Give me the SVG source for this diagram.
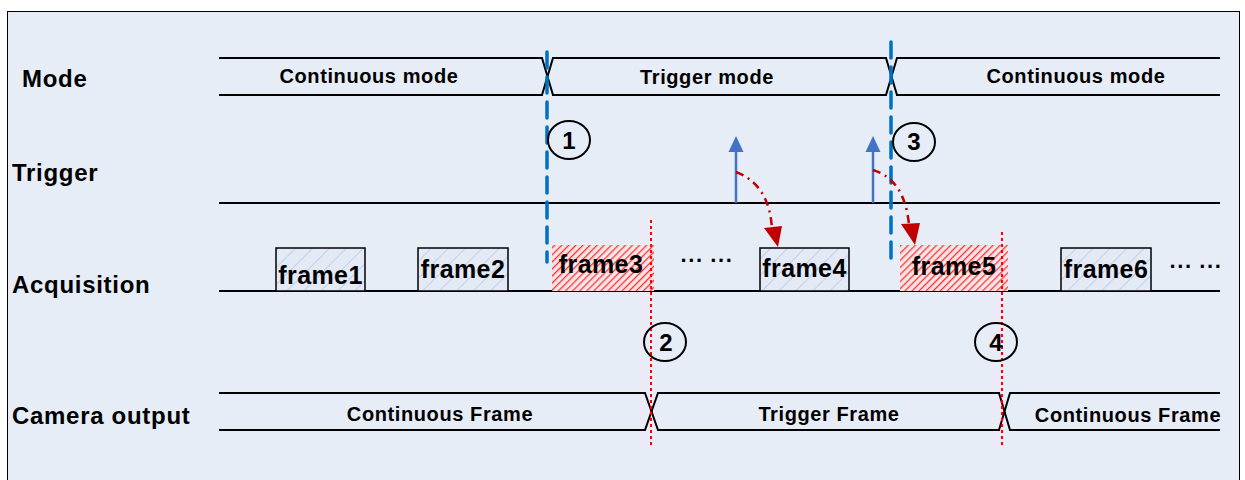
<svg xmlns="http://www.w3.org/2000/svg" width="1245" height="480" viewBox="0 0 1245 480">
<defs>
<style>
.lbl{font-family:"Liberation Sans",Arial,sans-serif;font-weight:bold;font-size:24px;letter-spacing:0.7px;fill:#000}
.bus{font-family:"Liberation Sans",Arial,sans-serif;font-weight:bold;font-size:20px;letter-spacing:0.6px;fill:#000;text-anchor:middle}
.fr{font-family:"Liberation Sans",Arial,sans-serif;font-weight:bold;font-size:25px;letter-spacing:0.4px;fill:#000;text-anchor:middle}
.num{font-family:"Liberation Sans",Arial,sans-serif;font-weight:bold;font-size:24px;fill:#000;text-anchor:middle}
.ln{fill:none;stroke:#000;stroke-width:2}
.blue{fill:none;stroke:#0070c0;stroke-width:3.5;stroke-dasharray:16 9;stroke-linecap:round}
.red{fill:none;stroke:#ff0000;stroke-width:2;stroke-dasharray:3 3}
.circ{fill:none;stroke:#000;stroke-width:2}
.trg{stroke:#4472c4;stroke-width:2.5;fill:none}
.dd{fill:none;stroke:#c00000;stroke-width:2.5;stroke-dasharray:8 5 2 5}
</style>
<pattern id="hb" patternUnits="userSpaceOnUse" width="12" height="12" patternTransform="rotate(45)">
<rect width="12" height="12" fill="#e3eaf6"/>
<line x1="0" y1="0" x2="0" y2="12" stroke="#b4c6e7" stroke-width="1.5"/>
</pattern>
<pattern id="hr" patternUnits="userSpaceOnUse" width="5" height="5" patternTransform="rotate(45)">
<rect width="5" height="5" fill="#fbe3e6"/>
<line x1="0" y1="0" x2="0" y2="5" stroke="#ff2a2a" stroke-width="2.4"/>
</pattern>
</defs>
<rect x="7.5" y="11.5" width="1232" height="480" fill="#e7edf7" stroke="#000" stroke-width="1"/>

<g id="labels">
<text class="lbl" x="22" y="87">Mode</text>
<text class="lbl" x="12" y="181">Trigger</text>
<text class="lbl" x="12" y="293">Acquisition</text>
<text class="lbl" x="12" y="424">Camera output</text>
</g>

<g id="mode-bus">
<path class="ln" d="M219,58 H542 L553,95 H886 L897,58 H1220"/>
<path class="ln" d="M219,95 H542 L553,58 H886 L897,95 H1220"/>
<text class="bus" x="369" y="83">Continuous mode</text>
<text class="bus" x="707" y="84">Trigger mode</text>
<text class="bus" x="1076" y="83">Continuous mode</text>
</g>

<g id="trigger-line">
<line class="ln" x1="219" y1="203" x2="1220" y2="203"/>
</g>

<g id="acq-line">
<line class="ln" x1="219" y1="291" x2="1220" y2="291"/>
</g>

<g id="frame1">
<rect x="276" y="248" width="89" height="43" fill="url(#hb)" stroke="#000" stroke-width="1.5"/>
<text class="fr" x="320.5" y="284">frame1</text>
</g>
<g id="frame2">
<rect x="418" y="248" width="90" height="43" fill="url(#hb)" stroke="#000" stroke-width="1.5"/>
<text class="fr" x="463" y="278">frame2</text>
</g>
<g id="frame3">
<rect x="552" y="245" width="102" height="46" fill="url(#hr)"/>
<text class="fr" x="601" y="273">frame3</text>
</g>
<g id="frame4">
<rect x="760" y="248" width="89" height="43" fill="url(#hb)" stroke="#000" stroke-width="1.5"/>
<text class="fr" x="804.5" y="277">frame4</text>
</g>
<g id="frame5">
<rect x="900" y="245" width="108" height="46" fill="url(#hr)"/>
<text class="fr" x="954" y="275">frame5</text>
</g>
<g id="frame6">
<rect x="1061" y="248" width="90" height="43" fill="url(#hb)" stroke="#000" stroke-width="1.5"/>
<text class="fr" x="1106" y="278">frame6</text>
</g>
<g id="dots">
<text class="fr" x="707" y="268" style="font-size:22px">··· ···</text>
<text class="fr" x="1196" y="274" style="font-size:22px">··· ···</text>
</g>

<g id="camera-bus">
<path class="ln" d="M219,393 H645 L658,430 H999 L1010,393 H1220"/>
<path class="ln" d="M219,430 H645 L658,393 H999 L1010,430 H1220"/>
<text class="bus" x="440" y="421">Continuous Frame</text>
<text class="bus" x="829" y="421">Trigger Frame</text>
<text class="bus" x="1128" y="422">Continuous Frame</text>
</g>

<g id="connectors">
<line class="blue" x1="547" y1="52" x2="547" y2="262"/>
<line class="blue" x1="891" y1="42" x2="891" y2="262"/>
<line class="red" x1="651" y1="220" x2="651" y2="446"/>
<line class="red" x1="1002" y1="232" x2="1002" y2="446"/>
<line class="trg" x1="736" y1="203" x2="736" y2="150"/>
<path d="M728.5,152 L736,136 L743.5,152 Z" fill="#4472c4"/>
<line class="trg" x1="873" y1="203" x2="873" y2="150"/>
<path d="M865.5,152 L873,136 L880.5,152 Z" fill="#4472c4"/>
<path class="dd" d="M736,172 Q770,185 772,230"/>
<path d="M764,228 L778,247 L782,226 Z" fill="#c00000"/>
<path class="dd" d="M873,170 Q905,180 909,225"/>
<path d="M901,224 L915,245 L920,223 Z" fill="#c00000"/>
</g>

<g id="marker1">
<ellipse class="circ" cx="569" cy="140" rx="21" ry="19"/>
<text class="num" x="569" y="149">1</text>
</g>
<g id="marker2">
<ellipse class="circ" cx="665" cy="342" rx="21" ry="19"/>
<text class="num" x="666" y="351">2</text>
</g>
<g id="marker3">
<ellipse class="circ" cx="914" cy="142" rx="21" ry="19"/>
<text class="num" x="914" y="150">3</text>
</g>
<g id="marker4">
<ellipse class="circ" cx="996" cy="342" rx="21" ry="19"/>
<text class="num" x="996" y="351">4</text>
</g>
</svg>
